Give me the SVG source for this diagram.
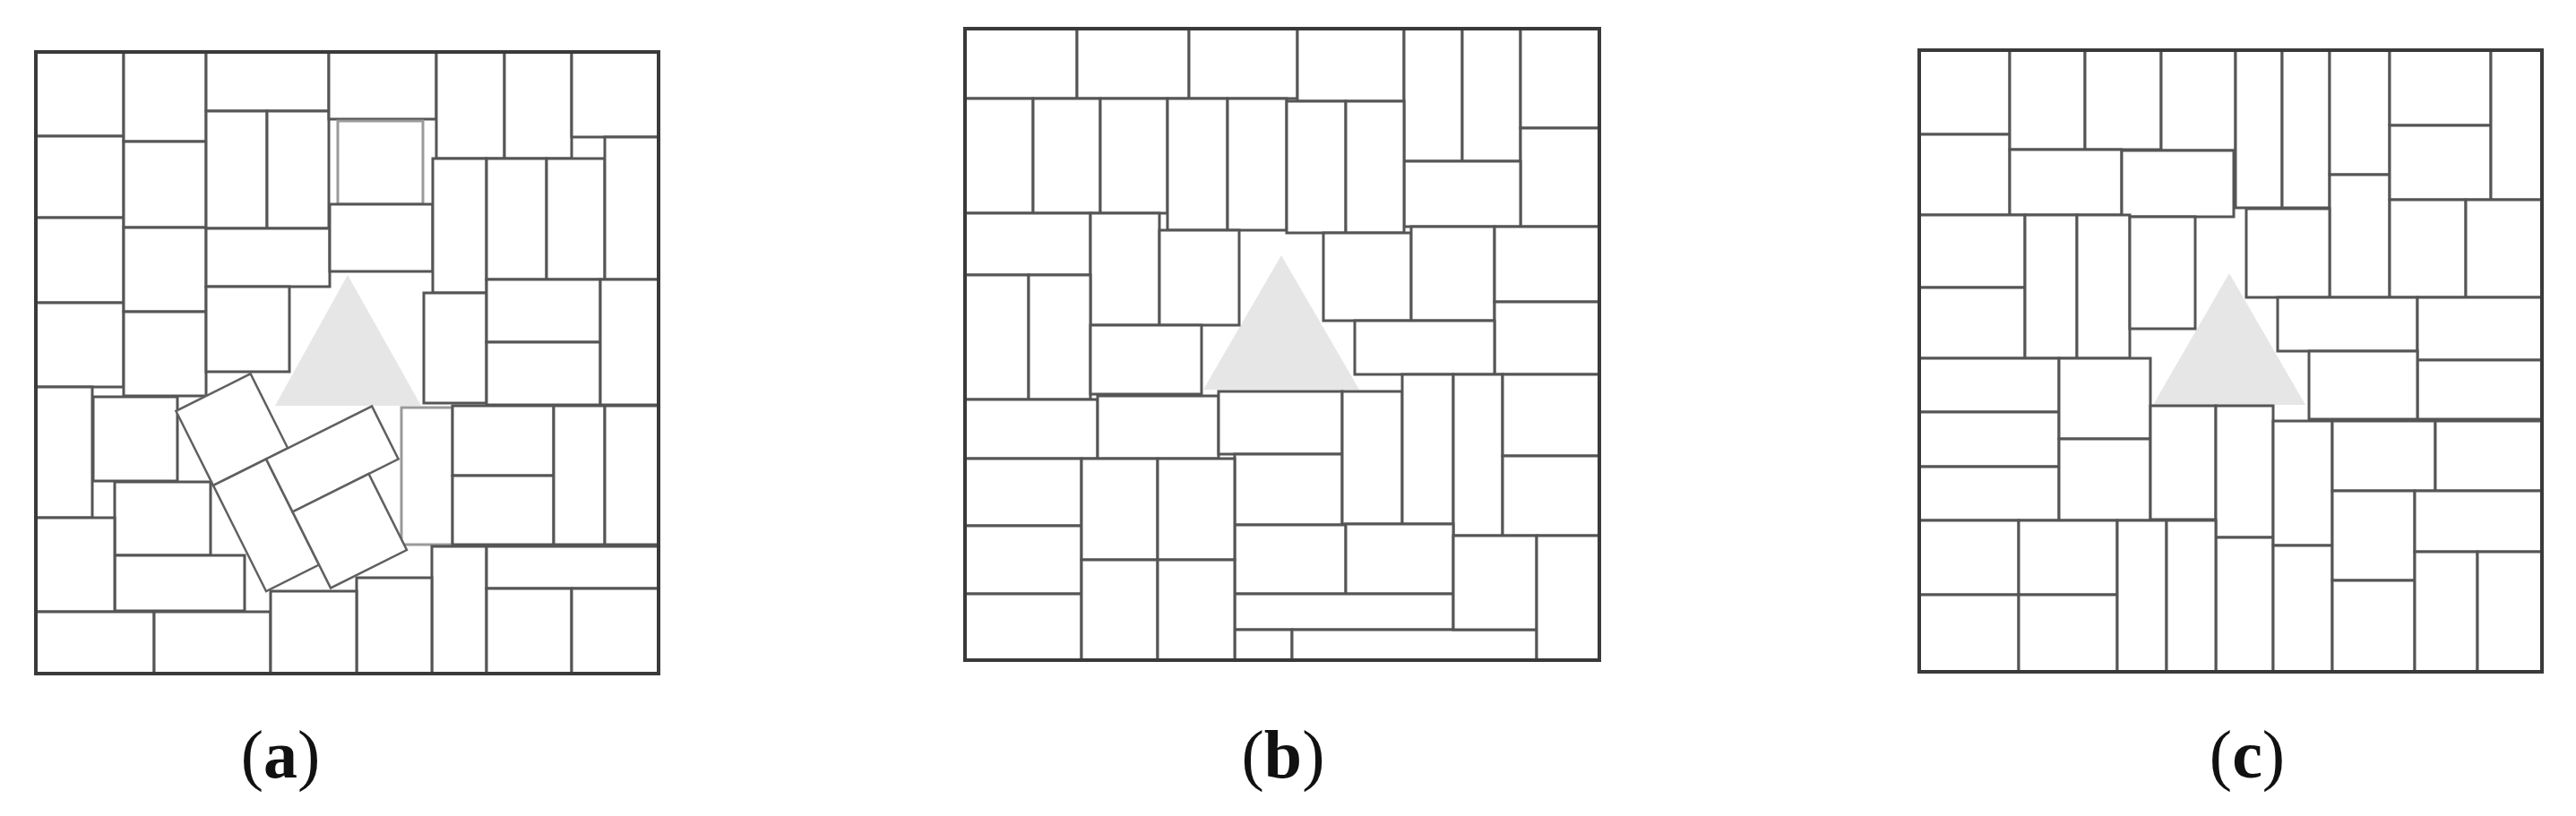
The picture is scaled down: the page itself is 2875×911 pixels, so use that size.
<svg xmlns="http://www.w3.org/2000/svg" width="2875" height="911" viewBox="0 0 2875 911">
<style>
.t{fill:#fff;stroke:#555;stroke-width:3}
.lt{fill:#fff;stroke:#9a9a9a;stroke-width:3}
.r{fill:#fff;stroke:#606060;stroke-width:2.5}
.fr{fill:none;stroke:#3a3a3a;stroke-width:4}
.tri{fill:#e6e6e6}
.lbl{font-family:"Liberation Serif","Times New Roman",serif;font-size:76px;fill:#111}
</style>
<rect width="2875" height="911" fill="#fff"/>
<g id="panel-a">
<polygon class="tri" points="388,307 307,453 470,453"/>
<rect class="t" x="40" y="58" width="98" height="94"/>
<rect class="t" x="40" y="152" width="98" height="91"/>
<rect class="t" x="40" y="243" width="98" height="95"/>
<rect class="t" x="40" y="338" width="98" height="94"/>
<rect class="t" x="138" y="58" width="92" height="100"/>
<rect class="t" x="138" y="158" width="92" height="96"/>
<rect class="t" x="138" y="254" width="92" height="94"/>
<rect class="t" x="138" y="348" width="92" height="94"/>
<rect class="t" x="230" y="58" width="137" height="66"/>
<rect class="t" x="230" y="124" width="68" height="131"/>
<rect class="t" x="298" y="124" width="69" height="131"/>
<rect class="t" x="230" y="255" width="138" height="65"/>
<rect class="t" x="230" y="320" width="93" height="95"/>
<rect class="t" x="367" y="58" width="120" height="75"/>
<rect class="t" x="487" y="58" width="76" height="119"/>
<rect class="t" x="563" y="58" width="75" height="119"/>
<rect class="t" x="638" y="58" width="97" height="95"/>
<rect class="lt" x="377" y="135" width="95" height="93"/>
<rect class="t" x="368" y="228" width="115" height="75"/>
<rect class="t" x="483" y="177" width="60" height="150"/>
<rect class="t" x="543" y="177" width="67" height="135"/>
<rect class="t" x="610" y="177" width="65" height="135"/>
<rect class="t" x="675" y="153" width="60" height="159"/>
<rect class="t" x="473" y="327" width="70" height="123"/>
<rect class="t" x="543" y="312" width="127" height="70"/>
<rect class="t" x="543" y="382" width="127" height="70"/>
<rect class="t" x="670" y="312" width="65" height="140"/>
<rect class="lt" x="448" y="455" width="57" height="153"/>
<rect class="t" x="505" y="453" width="113" height="78"/>
<rect class="t" x="505" y="531" width="113" height="77"/>
<rect class="t" x="618" y="453" width="57" height="155"/>
<rect class="t" x="675" y="453" width="60" height="155"/>
<rect class="t" x="482" y="610" width="61" height="142"/>
<rect class="t" x="543" y="610" width="192" height="47"/>
<rect class="t" x="543" y="657" width="95" height="95"/>
<rect class="t" x="638" y="657" width="97" height="95"/>
<rect class="t" x="398" y="645" width="84" height="107"/>
<rect class="t" x="40" y="432" width="63" height="146"/>
<rect class="t" x="104" y="443" width="94" height="94"/>
<rect class="t" x="128" y="538" width="107" height="82"/>
<rect class="t" x="128" y="620" width="145" height="62"/>
<rect class="t" x="40" y="578" width="88" height="105"/>
<rect class="t" x="40" y="683" width="132" height="69"/>
<rect class="t" x="172" y="683" width="130" height="69"/>
<rect class="t" x="302" y="660" width="96" height="92"/>
<g transform="translate(238,542) rotate(-26.565)">
<rect class="r" x="0" y="-93" width="93" height="93"/>
<rect class="r" x="0" y="0" width="66" height="132"/>
<rect class="r" x="66" y="0" width="132" height="66"/>
<rect class="r" x="66" y="66" width="95" height="95"/>
</g>
<rect class="fr" x="40" y="58" width="695" height="694"/>
</g>
<g id="panel-b">
<polygon class="tri" points="1430,285 1343,435 1517,435"/>
<rect class="t" x="1077" y="32" width="125" height="78"/>
<rect class="t" x="1202" y="32" width="125" height="78"/>
<rect class="t" x="1327" y="32" width="121" height="78"/>
<rect class="t" x="1448" y="32" width="119" height="81"/>
<rect class="t" x="1567" y="32" width="65" height="148"/>
<rect class="t" x="1632" y="32" width="65" height="148"/>
<rect class="t" x="1697" y="32" width="88" height="111"/>
<rect class="t" x="1697" y="143" width="88" height="110"/>
<rect class="t" x="1567" y="180" width="130" height="73"/>
<rect class="t" x="1077" y="110" width="76" height="128"/>
<rect class="t" x="1153" y="110" width="75" height="128"/>
<rect class="t" x="1228" y="110" width="75" height="128"/>
<rect class="t" x="1303" y="110" width="67" height="147"/>
<rect class="t" x="1370" y="110" width="66" height="147"/>
<rect class="t" x="1436" y="113" width="66" height="147"/>
<rect class="t" x="1502" y="113" width="65" height="147"/>
<rect class="t" x="1077" y="238" width="140" height="69"/>
<rect class="t" x="1217" y="238" width="77" height="125"/>
<rect class="t" x="1294" y="257" width="89" height="106"/>
<rect class="t" x="1077" y="307" width="71" height="139"/>
<rect class="t" x="1148" y="307" width="69" height="139"/>
<rect class="t" x="1217" y="363" width="124" height="77"/>
<rect class="t" x="1477" y="260" width="98" height="98"/>
<rect class="t" x="1575" y="253" width="93" height="105"/>
<rect class="t" x="1668" y="253" width="117" height="84"/>
<rect class="t" x="1668" y="337" width="117" height="81"/>
<rect class="t" x="1512" y="358" width="156" height="60"/>
<rect class="t" x="1077" y="446" width="148" height="66"/>
<rect class="t" x="1225" y="442" width="135" height="70"/>
<rect class="t" x="1360" y="437" width="138" height="70"/>
<rect class="t" x="1378" y="507" width="120" height="79"/>
<rect class="t" x="1498" y="437" width="67" height="148"/>
<rect class="t" x="1565" y="418" width="57" height="167"/>
<rect class="t" x="1622" y="418" width="55" height="180"/>
<rect class="t" x="1677" y="418" width="108" height="91"/>
<rect class="t" x="1677" y="509" width="108" height="89"/>
<rect class="t" x="1378" y="586" width="124" height="77"/>
<rect class="t" x="1502" y="585" width="120" height="78"/>
<rect class="t" x="1378" y="663" width="244" height="40"/>
<rect class="t" x="1378" y="703" width="64" height="34"/>
<rect class="t" x="1442" y="703" width="273" height="34"/>
<rect class="t" x="1622" y="598" width="93" height="105"/>
<rect class="t" x="1715" y="598" width="70" height="139"/>
<rect class="t" x="1077" y="512" width="130" height="75"/>
<rect class="t" x="1077" y="587" width="130" height="76"/>
<rect class="t" x="1077" y="663" width="130" height="74"/>
<rect class="t" x="1207" y="512" width="85" height="113"/>
<rect class="t" x="1292" y="512" width="86" height="113"/>
<rect class="t" x="1207" y="625" width="85" height="112"/>
<rect class="t" x="1292" y="625" width="86" height="112"/>
<rect class="fr" x="1077" y="32" width="708" height="705"/>
</g>
<g id="panel-c">
<polygon class="tri" points="2488,305 2403,452 2573,452"/>
<rect class="t" x="2142" y="56" width="101" height="94"/>
<rect class="t" x="2142" y="150" width="101" height="90"/>
<rect class="t" x="2243" y="56" width="84" height="111"/>
<rect class="t" x="2327" y="56" width="85" height="111"/>
<rect class="t" x="2412" y="56" width="83" height="112"/>
<rect class="t" x="2243" y="167" width="125" height="73"/>
<rect class="t" x="2368" y="168" width="125" height="74"/>
<rect class="t" x="2495" y="56" width="52" height="176"/>
<rect class="t" x="2547" y="56" width="53" height="176"/>
<rect class="t" x="2600" y="56" width="67" height="139"/>
<rect class="t" x="2600" y="195" width="67" height="137"/>
<rect class="t" x="2667" y="56" width="113" height="84"/>
<rect class="t" x="2667" y="140" width="113" height="83"/>
<rect class="t" x="2780" y="56" width="57" height="167"/>
<rect class="t" x="2667" y="223" width="85" height="109"/>
<rect class="t" x="2752" y="223" width="85" height="109"/>
<rect class="t" x="2507" y="233" width="93" height="99"/>
<rect class="t" x="2542" y="332" width="156" height="60"/>
<rect class="t" x="2698" y="332" width="139" height="70"/>
<rect class="t" x="2698" y="402" width="139" height="66"/>
<rect class="t" x="2577" y="392" width="121" height="76"/>
<rect class="t" x="2142" y="240" width="118" height="81"/>
<rect class="t" x="2142" y="321" width="118" height="79"/>
<rect class="t" x="2260" y="240" width="58" height="160"/>
<rect class="t" x="2318" y="240" width="59" height="160"/>
<rect class="t" x="2377" y="242" width="73" height="125"/>
<rect class="t" x="2142" y="400" width="156" height="60"/>
<rect class="t" x="2142" y="460" width="156" height="61"/>
<rect class="t" x="2142" y="521" width="156" height="60"/>
<rect class="t" x="2298" y="400" width="102" height="90"/>
<rect class="t" x="2298" y="490" width="102" height="91"/>
<rect class="t" x="2400" y="453" width="73" height="127"/>
<rect class="t" x="2473" y="453" width="64" height="147"/>
<rect class="t" x="2473" y="600" width="64" height="150"/>
<rect class="t" x="2142" y="581" width="111" height="83"/>
<rect class="t" x="2253" y="581" width="110" height="83"/>
<rect class="t" x="2142" y="664" width="111" height="86"/>
<rect class="t" x="2253" y="664" width="110" height="86"/>
<rect class="t" x="2363" y="581" width="55" height="169"/>
<rect class="t" x="2418" y="581" width="55" height="169"/>
<rect class="t" x="2537" y="470" width="66" height="139"/>
<rect class="t" x="2537" y="609" width="66" height="141"/>
<rect class="t" x="2603" y="470" width="115" height="78"/>
<rect class="t" x="2718" y="470" width="119" height="78"/>
<rect class="t" x="2603" y="548" width="92" height="100"/>
<rect class="t" x="2603" y="648" width="92" height="102"/>
<rect class="t" x="2695" y="548" width="142" height="68"/>
<rect class="t" x="2695" y="616" width="70" height="134"/>
<rect class="t" x="2765" y="616" width="72" height="134"/>
<rect class="fr" x="2142" y="56" width="695" height="694"/>
</g>
<g id="labels">
<text class="lbl" x="313" y="868" text-anchor="middle">(<tspan font-weight="bold">a</tspan>)</text>
<text class="lbl" x="1432" y="868" text-anchor="middle">(<tspan font-weight="bold">b</tspan>)</text>
<text class="lbl" x="2508" y="868" text-anchor="middle">(<tspan font-weight="bold">c</tspan>)</text>
</g>
</svg>
